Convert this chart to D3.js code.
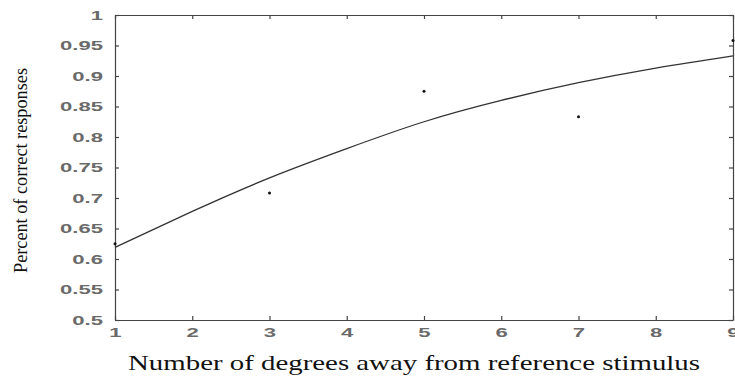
<!DOCTYPE html>
<html>
<head>
<meta charset="utf-8">
<script src="https://cdn.jsdelivr.net/npm/d3@7"></script>
<style>
  body { margin: 0; background: #fff; }
  .tick text { font-family: "Liberation Sans", Arial, sans-serif; font-weight: bold; fill: #6a6a6a; font-size: 13px; }
</style>
</head>
<body>
<div id="chart-area"></div>
<script>
// observed data points
var degrees = [1, 3, 5, 7, 9];
var correct = [0.625, 0.708, 0.875, 0.833, 0.958];

// fitted curve
var fitX = [1, 2, 3, 4, 5, 6, 7, 8, 9];
var fitY = [0.619, 0.678, 0.733, 0.781, 0.825, 0.86, 0.889, 0.913, 0.933];

var xTicks = [1, 2, 3, 4, 5, 6, 7, 8, 9];
var yTicks = [0.5, 0.55, 0.6, 0.65, 0.7, 0.75, 0.8, 0.85, 0.9, 0.95, 1];

var width = 735;
var height = 376;
var margin = { top: 15, right: 2, bottom: 56, left: 115 };
var chartWidth = width - margin.left - margin.right;
var chartHeight = height - margin.top - margin.bottom;
var stretch = 1.7; // tick labels in the original are wide

var svg = d3.select("#chart-area")
  .append("svg")
  .attr("width", width)
  .attr("height", height);
var g = svg.append("g")
  .attr("transform", "translate(" + margin.left + ", " + margin.top + ")");

var x = d3.scaleLinear().domain([1, 9]).range([0, chartWidth]);
var y = d3.scaleLinear().domain([0.5, 1]).range([chartHeight, 0]);

// axes with inward ticks
var bottomAxis = d3.axisBottom(x).tickValues(xTicks).tickSizeInner(-4).tickSizeOuter(0).tickPadding(8).tickFormat(d3.format("d"));
g.append("g")
  .attr("class", "x axis")
  .attr("transform", "translate(0, " + chartHeight + ")")
  .call(bottomAxis)
  .selectAll("text")
  .attr("transform", "scale(" + stretch + ",1)");

var leftAxis = d3.axisLeft(y).tickValues(yTicks).tickSizeInner(-4).tickSizeOuter(0).tickFormat(d => d3.format("")(+d.toFixed(2)));
g.append("g")
  .attr("class", "y axis")
  .call(leftAxis)
  .selectAll("text")
  .attr("x", 0)
  .attr("transform", "translate(-12,0) scale(" + stretch + ",1)");

g.append("g")
  .attr("class", "x axis top")
  .call(d3.axisTop(x).tickValues(xTicks).tickSizeInner(-4).tickSizeOuter(0).tickFormat(""));
g.append("g")
  .attr("class", "y axis right")
  .attr("transform", "translate(" + chartWidth + ", 0)")
  .call(d3.axisRight(y).tickValues(yTicks).tickSizeInner(-4).tickSizeOuter(0).tickFormat(""));

g.selectAll(".domain, .tick line")
  .attr("stroke", "#444")
  .attr("stroke-width", 1.2);

// fitted curve
var line = d3.line()
  .x((d, i) => x(fitX[i]))
  .y(d => y(d))
  .curve(d3.curveNatural);
g.append("path")
  .datum(fitY)
  .attr("d", line)
  .attr("fill", "none")
  .attr("stroke", "#333")
  .attr("stroke-width", 1.3);

// data points
g.selectAll("circle")
  .data(correct).enter()
  .append("circle")
  .attr("cx", (d, i) => x(degrees[i]))
  .attr("cy", d => y(d))
  .attr("r", 1.5)
  .attr("fill", "#111");

svg.append("text")
  .attr("x", 128)
  .attr("y", 370)
  .attr("font-family", "'Liberation Serif', 'DejaVu Serif', 'Times New Roman', serif")
  .attr("font-size", "21px")
  .attr("fill", "#111")
  .attr("textLength", 572)
  .attr("lengthAdjust", "spacingAndGlyphs")
  .text("Number of degrees away from reference stimulus");

svg.append("text")
  .attr("transform", "translate(27, 273) rotate(-90)")
  .attr("font-family", "'Liberation Serif', 'DejaVu Serif', 'Times New Roman', serif")
  .attr("font-size", "18px")
  .attr("fill", "#111")
  .attr("textLength", 205)
  .attr("lengthAdjust", "spacingAndGlyphs")
  .text("Percent of correct responses");
</script>
</body>
</html>
